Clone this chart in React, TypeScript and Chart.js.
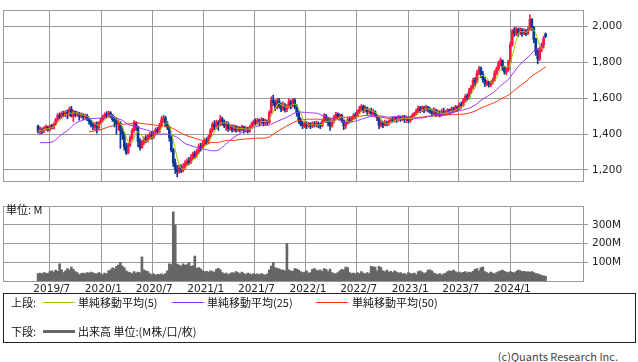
import React, { useEffect, useRef } from "react";
import { Chart, registerables } from "chart.js";

Chart.register(...registerables);

// ---- data (weekly, first week = 2019-05-20) ----
const START_DATE = Date.UTC(2019, 4, 20);

const opens = [
1445,1415,1428,1420,1435,1440,1425,1445,1432,1455,1480,1505,1495,1515,1505,1522,1510,1540,1500,1525,
1510,1515,1500,1508,1495,1505,1488,1470,1450,1440,1455,1435,1462,1480,1495,1510,1500,1518,1505,1480,
1470,1455,1460,1420,1400,1330,1295,1340,1380,1420,1465,1440,1360,1325,1355,1375,1365,1385,1395,1380,
1400,1425,1415,1450,1480,1490,1455,1440,1380,1310,1240,1205,1190,1210,1195,1215,1235,1250,1240,1265,
1290,1280,1300,1330,1320,1345,1365,1350,1385,1420,1455,1440,1465,1450,1485,1470,1445,1460,1430,1445,
1425,1440,1420,1435,1425,1440,1420,1430,1415,1440,1455,1470,1462,1478,1465,1480,1460,1475,1465,1520,
1590,1575,1550,1585,1560,1540,1560,1535,1555,1580,1560,1590,1555,1520,1480,1455,1445,1460,1445,1458,
1442,1455,1448,1460,1450,1445,1470,1500,1480,1465,1445,1470,1495,1510,1495,1505,1475,1445,1460,1480,
1470,1490,1505,1500,1525,1540,1555,1530,1545,1525,1530,1515,1525,1505,1490,1450,1460,1450,1465,1455,
1470,1480,1475,1490,1480,1495,1485,1498,1480,1492,1475,1490,1505,1515,1530,1545,1530,1548,1535,1550,
1538,1528,1515,1530,1510,1520,1505,1525,1515,1520,1535,1525,1540,1530,1550,1545,1565,1560,1590,1610,
1600,1640,1660,1700,1690,1740,1765,1735,1705,1680,1690,1675,1685,1700,1740,1765,1795,1810,1770,1745,
1760,1800,1900,1975,1960,1985,1965,1980,1960,1975,1960,1985,2040,1995,1930,1860,1820,1870,1900,1958
];

const highs = [
1450,1440,1435,1442,1450,1445,1452,1455,1462,1488,1515,1518,1525,1528,1530,1535,1550,1555,1532,1530,
1525,1522,1518,1515,1512,1510,1495,1478,1462,1465,1468,1470,1488,1505,1518,1525,1528,1525,1510,1498,
1490,1480,1470,1440,1410,1350,1350,1390,1430,1475,1470,1445,1375,1365,1385,1392,1398,1410,1415,1418,
1435,1438,1460,1497,1505,1500,1470,1445,1390,1320,1260,1225,1230,1228,1235,1250,1262,1270,1285,1300,
1305,1315,1345,1350,1360,1375,1380,1395,1430,1465,1475,1478,1475,1505,1495,1480,1470,1468,1455,1450,
1452,1448,1445,1440,1450,1445,1442,1438,1448,1465,1480,1485,1488,1484,1492,1488,1482,1480,1530,1608,
1617,1590,1598,1600,1575,1580,1570,1565,1598,1590,1600,1598,1565,1530,1490,1470,1470,1468,1465,1462,
1468,1470,1472,1468,1462,1480,1514,1510,1490,1485,1480,1505,1522,1518,1515,1510,1480,1468,1490,1495,
1497,1515,1520,1535,1555,1565,1562,1558,1550,1540,1545,1538,1530,1512,1495,1475,1470,1478,1472,1480,
1492,1495,1497,1495,1505,1500,1505,1505,1500,1498,1500,1515,1522,1540,1556,1555,1558,1555,1560,1555,
1548,1540,1548,1540,1535,1530,1540,1545,1532,1542,1540,1550,1550,1560,1558,1575,1578,1600,1620,1625,
1655,1672,1712,1715,1755,1778,1775,1750,1715,1700,1695,1695,1712,1755,1775,1808,1826,1815,1780,1770,
1812,1915,1985,1995,1998,1992,1995,1990,1988,1985,1995,2066,2045,2000,1935,1875,1885,1910,1945,1965
];

const lows = [
1405,1400,1402,1408,1420,1415,1418,1428,1428,1450,1470,1485,1488,1495,1495,1485,1500,1495,1470,1495,
1498,1478,1490,1480,1488,1475,1455,1440,1425,1420,1405,1425,1455,1470,1485,1490,1495,1490,1470,1440,
1400,1420,1320,1370,1310,1285,1290,1330,1370,1410,1420,1330,1310,1320,1340,1350,1355,1370,1372,1375,
1392,1400,1408,1440,1465,1440,1425,1360,1300,1220,1180,1160,1180,1185,1188,1205,1225,1228,1235,1255,
1262,1270,1290,1305,1315,1335,1340,1345,1378,1410,1425,1430,1420,1445,1450,1435,1420,1415,1420,1410,
1415,1410,1415,1412,1418,1405,1410,1405,1410,1430,1445,1450,1455,1445,1455,1445,1450,1450,1460,1515,
1560,1530,1540,1545,1525,1530,1522,1525,1545,1540,1550,1540,1500,1460,1445,1430,1435,1430,1438,1430,
1435,1440,1440,1435,1430,1440,1465,1465,1445,1420,1438,1462,1485,1480,1478,1465,1425,1430,1455,1462,
1465,1480,1485,1495,1515,1530,1520,1522,1510,1512,1505,1505,1495,1475,1430,1440,1435,1445,1446,1450,
1462,1465,1468,1465,1472,1470,1475,1463,1465,1462,1465,1480,1495,1505,1520,1520,1525,1520,1528,1522,
1515,1500,1505,1497,1500,1495,1500,1505,1505,1510,1508,1515,1520,1525,1530,1535,1545,1555,1575,1585,
1595,1625,1650,1670,1685,1730,1715,1690,1665,1670,1662,1665,1678,1695,1730,1755,1780,1755,1735,1730,
1750,1795,1890,1945,1950,1945,1955,1945,1955,1950,1955,1978,1980,1910,1840,1792,1810,1860,1880,1938
];

const closes = [
1415,1428,1420,1435,1440,1425,1445,1432,1455,1480,1505,1495,1515,1505,1522,1510,1540,1500,1525,1510,
1515,1500,1508,1495,1505,1488,1470,1450,1440,1455,1435,1462,1480,1495,1510,1500,1518,1505,1480,1470,
1455,1460,1420,1400,1330,1295,1340,1380,1420,1465,1440,1360,1325,1355,1375,1365,1385,1395,1380,1400,
1425,1415,1450,1480,1490,1455,1440,1380,1310,1240,1205,1190,1210,1195,1215,1235,1250,1240,1265,1290,
1280,1300,1330,1320,1345,1365,1350,1385,1420,1455,1440,1465,1450,1485,1470,1445,1460,1430,1445,1425,
1440,1420,1435,1425,1440,1420,1430,1415,1440,1455,1470,1462,1478,1465,1480,1460,1475,1465,1520,1590,
1575,1550,1585,1560,1540,1560,1535,1555,1580,1560,1590,1555,1520,1480,1455,1445,1460,1445,1458,1442,
1455,1448,1460,1450,1445,1470,1500,1480,1465,1445,1470,1495,1510,1495,1505,1475,1445,1460,1480,1470,
1490,1505,1500,1525,1540,1555,1530,1545,1525,1530,1515,1525,1505,1490,1450,1460,1450,1465,1455,1470,
1480,1475,1490,1480,1495,1485,1498,1480,1492,1475,1490,1505,1515,1530,1545,1530,1548,1535,1550,1538,
1528,1515,1530,1510,1520,1505,1525,1515,1520,1535,1525,1540,1530,1550,1545,1565,1560,1590,1610,1600,
1640,1660,1700,1690,1740,1765,1735,1705,1680,1690,1675,1685,1700,1740,1765,1795,1810,1770,1745,1760,
1800,1900,1975,1960,1985,1965,1980,1960,1975,1960,1985,2040,1995,1930,1860,1820,1870,1900,1935,1945
];

// volume in millions (M)
const volumes = [
40,42,38,45,42,40,50,55,48,58,52,92,60,45,55,67,58,75,62,50,
45,35,40,42,38,45,42,48,44,40,38,45,40,35,42,38,55,60,70,65,
78,85,100,80,72,55,48,45,40,50,42,48,45,130,60,55,50,40,35,38,
32,36,34,38,33,40,55,92,88,370,300,90,85,80,92,85,88,100,78,82,
133,68,72,65,55,50,52,48,55,50,48,62,68,60,45,38,42,35,40,45,
42,50,45,38,48,40,35,42,38,35,40,36,38,34,40,36,32,38,60,80,
100,72,68,65,60,58,55,200,60,55,52,66,64,58,50,45,48,55,42,45,
62,66,58,55,60,52,66,62,50,64,45,40,38,45,55,62,60,75,72,45,
40,42,38,45,40,50,42,38,45,40,78,76,75,55,78,72,55,50,58,48,
52,45,55,48,42,45,38,40,35,45,40,38,42,35,50,55,48,40,45,58,
60,55,42,38,35,40,32,38,42,50,55,52,58,50,45,48,42,46,50,44,
48,45,52,62,67,55,72,75,50,45,40,48,42,38,45,50,55,58,52,48,
45,50,47,44,50,58,56,50,52,48,50,46,50,45,40,38,35,30,28,25
];

// 25-week MA values for weeks 1..23 (history before the window)
const ma25Lead = [1352,1352,1352,1352,1352,1353,1355,1360,1368,1378,1388,1398,1406,1412,1420,1430,1440,1450,1460,1466,1470,1474,1478];
// 50-week MA values for weeks 26..48
const ma50Lead = [1412,1414,1416,1418,1420,1422,1425,1428,1432,1436,1440,1443,1446,1448,1450,1452,1453,1454,1455,1456,1457,1458,1458];

const dateTickLabels = ["2019/7","2020/1","2020/7","2021/1","2021/7","2022/1","2022/7","2023/1","2023/7","2024/1"];
const priceTicks = [1200, 1400, 1600, 1800, 2000];
const volumeTicks = [100, 200, 300];

const legendItems = [
  { label: "単純移動平均(5)", color: "#99cc00" },
  { label: "単純移動平均(25)", color: "#9933ff" },
  { label: "単純移動平均(50)", color: "#ff3300" },
];

// ---- styles ----
const UP = "#ff1744";
const DOWN = "#0a3796";
const GRID = "#9a9a9a";
const FONT = "'DejaVu Sans', sans-serif";
const JFONT = "'Noto Sans CJK JP', sans-serif";
const X_MIN = -17.9;
const X_MAX = 278.1;

const WEEK_MS = 7 * 864e5;
const tickIndex = (s: string) => {
  const [y, m] = s.split("/").map(Number);
  return (Date.UTC(y, m - 1, 1) - START_DATE) / WEEK_MS;
};
const dateTickPos = dateTickLabels.map(tickIndex);

function sma(vals: number[], n: number, partial = false): (number | null)[] {
  return vals.map((_, i) => {
    if (i < n - 1 && !partial) return null;
    const s = vals.slice(Math.max(0, i - n + 1), i + 1);
    return s.reduce((a, b) => a + b, 0) / s.length;
  });
}

const ma5 = sma(closes, 5, true);
const ma25 = sma(closes, 25).map((v, i) => (v != null ? v : i >= 1 && i - 1 < ma25Lead.length ? ma25Lead[i - 1] : null));
const ma50 = sma(closes, 50).map((v, i) => (v != null ? v : i >= 26 && i - 26 < ma50Lead.length ? ma50Lead[i - 26] : null));

const toPts = (arr: (number | null)[]) =>
  arr.map((v, i) => (v == null ? null : { x: i, y: v })).filter(Boolean) as { x: number; y: number }[];

const frame = {
  id: "frame",
  afterDraw(chart: any) {
    const { ctx, chartArea: a } = chart;
    ctx.save();
    ctx.strokeStyle = GRID;
    ctx.lineWidth = 1;
    ctx.strokeRect(Math.round(a.left) + 0.5, Math.round(a.top) + 0.5, Math.round(a.right - a.left), Math.round(a.bottom - a.top));
    ctx.restore();
  },
};

export default function App() {
  const priceRef = useRef<HTMLCanvasElement>(null);
  const volRef = useRef<HTMLCanvasElement>(null);

  useEffect(() => {
    const colors = closes.map((c, i) => (c >= opens[i] ? UP : DOWN));
    const xScaleBase: any = {
      type: "linear",
      min: X_MIN,
      max: X_MAX,
      offset: false,
      afterBuildTicks: (s: any) => {
        s.ticks = dateTickPos.map((v) => ({ value: v }));
      },
    };

    const price = new Chart(priceRef.current!, {
      type: "bar",
      data: {
        datasets: [
          { type: "line", data: toPts(ma5), borderColor: "#99cc00", borderWidth: 1, pointRadius: 0, order: 0 } as any,
          { type: "line", data: toPts(ma25), borderColor: "#9933ff", borderWidth: 1, pointRadius: 0, order: 0 } as any,
          { type: "line", data: toPts(ma50), borderColor: "#ff3300", borderWidth: 1, pointRadius: 0, order: 0 } as any,
          {
            type: "bar",
            data: closes.map((_, i) => ({ x: i, y: [opens[i], closes[i]] })),
            backgroundColor: colors,
            barThickness: 2,
            minBarLength: 1,
            grouped: false,
            order: 1,
          } as any,
          {
            type: "bar",
            data: closes.map((_, i) => ({ x: i, y: [lows[i], highs[i]] })),
            backgroundColor: colors,
            barThickness: 1,
            grouped: false,
            order: 2,
          } as any,
        ],
      },
      options: {
        animation: false,
        responsive: false,
        devicePixelRatio: 1,
        events: [],
        layout: { padding: { left: 3, top: 1, right: 0, bottom: 2 } },
        plugins: { legend: { display: false }, tooltip: { enabled: false } },
        scales: {
          x: {
            ...xScaleBase,
            grid: { color: GRID, drawTicks: false, offset: false },
            border: { display: false },
            ticks: { display: false },
          },
          y: {
            position: "right",
            min: 1134,
            max: 2091,
            grid: { color: GRID, tickLength: 5 },
            border: { display: false },
            ticks: {
              padding: 4,
              color: "#222",
              font: { family: FONT, size: 10.5 },
              callback: (v: any) => Number(v).toLocaleString("en-US"),
            },
            afterBuildTicks: (s: any) => {
              s.ticks = priceTicks.map((v) => ({ value: v }));
            },
            afterFit: (s: any) => {
              s.width = 55;
            },
          },
        } as any,
      },
      plugins: [frame],
    });

    const vol = new Chart(volRef.current!, {
      type: "bar",
      data: {
        datasets: [
          {
            data: volumes.map((v, i) => ({ x: i, y: v })),
            backgroundColor: "#666666",
            barThickness: 2,
            grouped: false,
          } as any,
        ],
      },
      options: {
        animation: false,
        responsive: false,
        devicePixelRatio: 1,
        events: [],
        layout: { padding: { left: 3, top: 5, right: 0, bottom: 1 } },
        plugins: { legend: { display: false }, tooltip: { enabled: false } },
        scales: {
          x: {
            ...xScaleBase,
            grid: { color: GRID, drawTicks: false, offset: false },
            border: { display: false },
            ticks: {
              padding: 2,
              color: "#222",
              maxRotation: 0,
              autoSkip: false,
              labelOffset: 2,
              font: { family: FONT, size: 10.5 },
              callback: (v: any) => {
                const k = dateTickPos.findIndex((p) => Math.abs(p - v) < 1e-6);
                return k >= 0 ? dateTickLabels[k] : "";
              },
            },
            afterFit: (s: any) => {
              s.height = 14;
            },
          },
          y: {
            position: "right",
            min: 0,
            max: 400,
            grid: { color: GRID, tickLength: 5 },
            border: { display: false },
            ticks: {
              padding: 4,
              color: "#222",
              font: { family: FONT, size: 10.5 },
              callback: (v: any) => `${v}M`,
            },
            afterBuildTicks: (s: any) => {
              s.ticks = volumeTicks.map((v) => ({ value: v }));
            },
            afterFit: (s: any) => {
              s.width = 55;
            },
          },
        } as any,
      },
      plugins: [frame],
    });

    return () => {
      price.destroy();
      vol.destroy();
    };
  }, []);

  const txt: React.CSSProperties = {
    position: "absolute",
    fontFamily: JFONT,
    fontSize: 11,
    color: "#111",
    lineHeight: "14px",
    whiteSpace: "nowrap",
    transform: "translateY(-50%)",
  };
  const lineX = [43, 172, 316];
  const textX = [78, 207, 352];

  return (
    <div style={{ position: "fixed", left: 0, top: 0, width: 638, height: 362, background: "#fff", overflow: "hidden" }}>
      <canvas ref={priceRef} width={638} height={192} style={{ position: "absolute", left: 0, top: 0 }} />
      <canvas ref={volRef} width={638} height={100} style={{ position: "absolute", left: 0, top: 196 }} />
      <span style={{ ...txt, left: 6, top: 209 }}>単位: M</span>
      <div
        style={{
          position: "absolute",
          left: 3,
          top: 293,
          width: 633,
          height: 50,
          border: "1px solid #222",
          boxSizing: "border-box",
        }}
      />
      <span style={{ ...txt, left: 11, top: 302 }}>上段:</span>
      {legendItems.map((it, k) => (
        <React.Fragment key={it.label}>
          <div style={{ position: "absolute", left: lineX[k], top: 302, width: 32, height: 1, background: it.color }} />
          <span style={{ ...txt, left: textX[k], top: 302 }}>{it.label}</span>
        </React.Fragment>
      ))}
      <span style={{ ...txt, left: 11, top: 331 }}>下段:</span>
      <div style={{ position: "absolute", left: 43, top: 330, width: 32, height: 3, background: "#666" }} />
      <span style={{ ...txt, left: 78, top: 331 }}>出来高 単位:(M株/口/枚)</span>
      <span style={{ ...txt, right: 20, top: 356, color: "#444" }}>(c)Quants Research Inc.</span>
    </div>
  );
}
